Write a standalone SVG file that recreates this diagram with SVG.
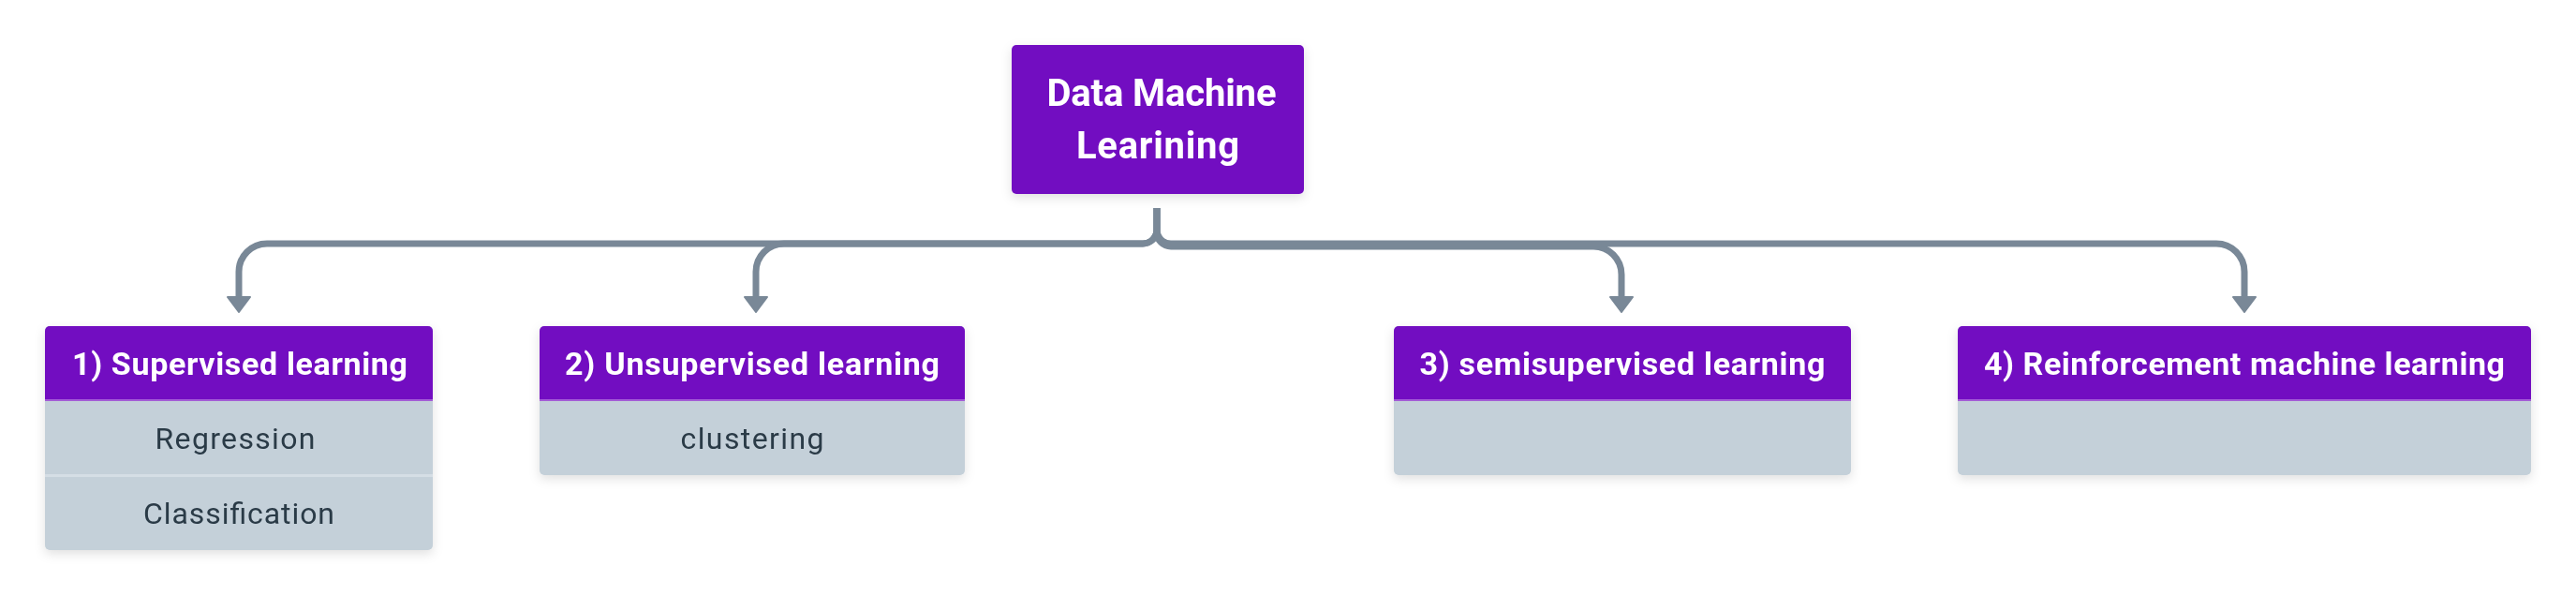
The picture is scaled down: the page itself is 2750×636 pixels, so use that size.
<svg xmlns="http://www.w3.org/2000/svg" width="2750" height="636" viewBox="0 0 2750 636">
<style>
.hd{fill:#7211c1}
.bd{fill:#c4d0d9}
.sep{fill:#a35bd6}
.rsep{fill:#d5dee5}
.ht{font-family:Roboto,"Liberation Sans",sans-serif;font-weight:700;font-size:34px;fill:#ffffff;text-anchor:middle}
.rt{font-family:Roboto,"Liberation Sans",sans-serif;font-weight:700;font-size:40px;fill:#ffffff;text-anchor:middle}
.bt{font-family:Roboto,"Liberation Sans",sans-serif;font-weight:400;font-size:32px;fill:#2b3a47;text-anchor:middle}
.con{fill:none;stroke:#798897;stroke-width:7;marker-end:url(#ah)}
</style>
<defs>
<filter id="sh" x="-10%" y="-20%" width="120%" height="150%">
<feDropShadow dx="0" dy="4" stdDeviation="6" flood-color="#000" flood-opacity="0.12"/>
</filter>
<marker id="ah" markerUnits="userSpaceOnUse" viewBox="0 0 18 26" markerWidth="18" markerHeight="26" refX="1" refY="13" orient="auto">
<path d="M1,1 L17,13 L1,25 Z" fill="#798897" stroke="#798897" stroke-width="2" stroke-linejoin="round"/>
</marker>
</defs>
<rect width="2750" height="636" fill="#ffffff"/>
<g id="connectors">
<path class="con" d="M1235,222 V245 A15 15 0 0 1 1220 260 H285 A30 30 0 0 0 255 290 V317"/>
<path class="con" d="M1235,222 V245 A15 15 0 0 1 1220 260 H837 A30 30 0 0 0 807 290 V317"/>
<path class="con" d="M1235,222 V248 A15 15 0 0 0 1250 263 H1701 A30 30 0 0 1 1731 293 V317"/>
<path class="con" d="M1235,222 V245 A15 15 0 0 0 1250 260 H2366 A30 30 0 0 1 2396 290 V317"/>
</g>
<g id="root" filter="url(#sh)">
<rect x="1080" y="48" width="312" height="159" rx="5" class="hd"/>
<text class="rt" x="1240" y="113" textLength="245">Data Machine</text>
<text class="rt" x="1236" y="169" textLength="174">Learining</text>
</g>
<g id="node1" filter="url(#sh)">
<rect x="48" y="348" width="414" height="239" rx="5" class="bd"/>
<path class="hd" d="M48,427 V353 A5 5 0 0 1 53 348 H457 A5 5 0 0 1 462 353 V427 Z"/>
<rect x="48" y="426" width="414" height="2" class="sep"/>
<rect x="48" y="506" width="414" height="3" class="rsep"/>
<text class="ht" x="256" y="400" textLength="358">1) Supervised learning</text>
<text class="bt" x="251" y="479" textLength="171">Regression</text>
<text class="bt" x="255" y="559" textLength="204">Classification</text>
</g>
<g id="node2" filter="url(#sh)">
<rect x="576" y="348" width="454" height="159" rx="5" class="bd"/>
<path class="hd" d="M576,427 V353 A5 5 0 0 1 581 348 H1025 A5 5 0 0 1 1030 353 V427 Z"/>
<rect x="576" y="426" width="454" height="2" class="sep"/>
<text class="ht" x="803" y="400" textLength="400">2) Unsupervised learning</text>
<text class="bt" x="803" y="479" textLength="153">clustering</text>
</g>
<g id="node3" filter="url(#sh)">
<rect x="1488" y="348" width="488" height="159" rx="5" class="bd"/>
<path class="hd" d="M1488,427 V353 A5 5 0 0 1 1493 348 H1971 A5 5 0 0 1 1976 353 V427 Z"/>
<rect x="1488" y="426" width="488" height="2" class="sep"/>
<text class="ht" x="1732" y="400" textLength="433">3) semisupervised learning</text>
</g>
<g id="node4" filter="url(#sh)">
<rect x="2090" y="348" width="612" height="159" rx="5" class="bd"/>
<path class="hd" d="M2090,427 V353 A5 5 0 0 1 2095 348 H2697 A5 5 0 0 1 2702 353 V427 Z"/>
<rect x="2090" y="426" width="612" height="2" class="sep"/>
<text class="ht" x="2396" y="400" textLength="556">4) Reinforcement machine learning</text>
</g>
</svg>
